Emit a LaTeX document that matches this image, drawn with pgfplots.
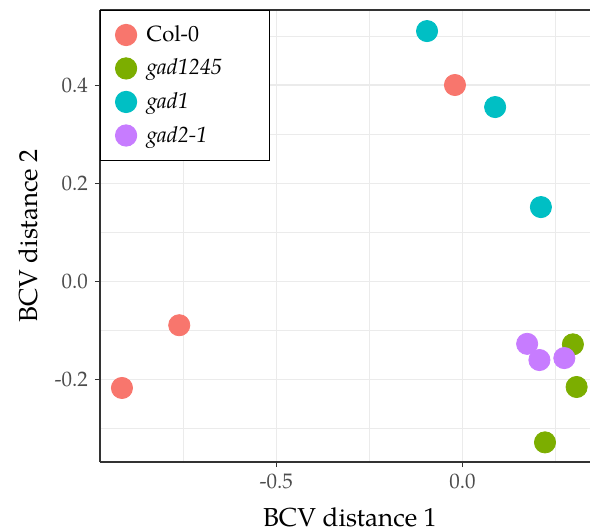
\documentclass[border=0pt]{standalone}
\usepackage{pgfplots}
\pgfplotsset{compat=1.18}
\usepackage{fontspec}
\setmainfont{TeX Gyre Pagella}
\definecolor{cCol}{HTML}{F8766D}
\definecolor{cG1245}{HTML}{7CAE00}
\definecolor{cG1}{HTML}{00BFC4}
\definecolor{cG21}{HTML}{C77CFF}
\definecolor{gridc}{HTML}{EBEBEB}
\definecolor{axc}{HTML}{333333}
\begin{document}
\begin{tikzpicture}
\begin{axis}[name=ax, scale only axis, width=245pt, height=226pt,
  xmin=-0.974, xmax=0.343, ymin=-0.369, ymax=0.553,
  axis y line*=left, xtick pos=left,
  axis line style={color=axc, line width=0.6pt},
  xtick={-0.5,0}, xticklabels={-0.5,0.0}, minor xtick={-0.75,-0.25,0.25},
  ytick={-0.2,0,0.2,0.4}, yticklabels={-0.2,0.0,0.2,0.4}, minor ytick={-0.3,-0.1,0.1,0.3,0.5},
  grid=both, major grid style={color=gridc, line width=0.55pt}, minor grid style={color=gridc, line width=0.35pt},
  tick align=outside, major tick length=2.5pt, minor tick length=0pt,
  tick style={color=axc, line width=0.5pt},
  ticklabel style={font=\fontsize{10.5}{12}\selectfont, color=black!70},
  /pgf/number format/assume math mode=true,
  xlabel={BCV distance 1}, ylabel={BCV distance 2},
  label style={font=\fontsize{13}{15}\selectfont},
  xlabel style={at={(axis description cs:0.51,-0.142)}, anchor=base},
  ylabel style={at={(axis description cs:-0.147,0.5)}, anchor=center},
  legend cell align=left,
  legend style={at={(0,1)}, anchor=north west, draw=black, line width=0.5pt,
    font=\fontsize{11}{13}\selectfont, inner xsep=7.5pt, inner ysep=5.5pt, row sep=3.2pt, column sep=3pt,
    /tikz/every even column/.append style={text width=52pt}},
]
\addplot[only marks, mark=*, mark size=5.3pt, color=cCol] coordinates {(-0.915,-0.218) (-0.761,-0.090) (-0.020,0.400)};
\addlegendentry{Col-0}
\addplot[only marks, mark=*, mark size=5.3pt, color=cG1245] coordinates {(0.297,-0.129) (0.307,-0.216) (0.222,-0.329)};
\addlegendentry{\textit{gad1245}}
\addplot[only marks, mark=*, mark size=5.3pt, color=cG1] coordinates {(-0.095,0.510) (0.088,0.355) (0.211,0.151)};
\addlegendentry{\textit{gad1}}
\addplot[only marks, mark=*, mark size=5.3pt, color=cG21] coordinates {(0.174,-0.128) (0.207,-0.161) (0.274,-0.157)};
\addlegendentry{\textit{gad2-1}}
\draw[color=axc, line width=0.6pt] (rel axis cs:0,1) -- (rel axis cs:1,1);
\end{axis}
\pgfresetboundingbox
\path (ax.south west) ++(-50pt,-34.5pt) rectangle ++(295pt,265.5pt);
\end{tikzpicture}
\end{document}
